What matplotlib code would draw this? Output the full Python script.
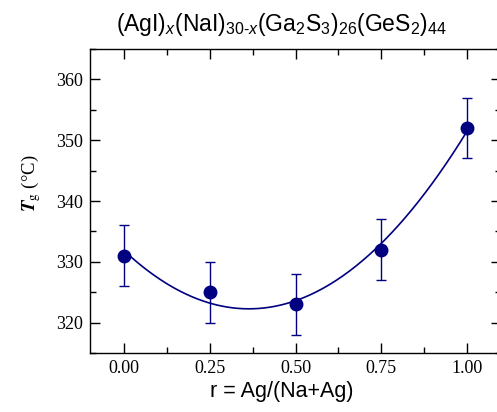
import matplotlib
matplotlib.use('Agg')
import matplotlib.pyplot as plt
import numpy as np
from matplotlib.ticker import MultipleLocator

# Ag fraction r and glass transition temperatures
r = [0.00, 0.25, 0.50, 0.75, 1.00]
tg = [331, 325, 323, 332, 352]
tg_err = [5, 5, 5, 5, 5]

navy = '#000080'

plt.rcParams['mathtext.fontset'] = 'custom'
plt.rcParams['mathtext.rm'] = 'Liberation Sans'
plt.rcParams['mathtext.it'] = 'Liberation Sans:italic'

fig = plt.figure(figsize=(4.97, 4.12), dpi=100)
ax = fig.add_axes([90 / 497, 59 / 412, 411 / 497, 304 / 412])

# quadratic fit through the measured points
coef = np.polyfit(r, tg, 2)
xf = np.linspace(min(r), max(r), 200)
ax.plot(xf, np.polyval(coef, xf), color=navy, lw=1.2, zorder=2)

ax.errorbar(r, tg, yerr=tg_err, fmt='o', color=navy, ms=9, elinewidth=1,
            capsize=3.5, capthick=1, zorder=3)

ax.set_xlim(-0.1, 1.1)
ax.set_ylim(315, 365)
ax.xaxis.set_major_locator(MultipleLocator(0.25))
ax.xaxis.set_minor_locator(MultipleLocator(0.125))
ax.yaxis.set_major_locator(MultipleLocator(10))
ax.yaxis.set_minor_locator(MultipleLocator(5))
ax.xaxis.set_major_formatter(plt.FuncFormatter(lambda v, p: f'{v:.2f}'))
ax.tick_params(which='both', direction='in', top=True, right=True, width=1,
               labelsize=13)
ax.tick_params(which='major', length=7, pad=5)
ax.tick_params(which='minor', length=4)
for lab in ax.get_xticklabels() + ax.get_yticklabels():
    lab.set_fontfamily('Liberation Serif')
for s in ax.spines.values():
    s.set_linewidth(1)

fig.text(281 / 497, 1 - 25 / 412,
         r'(AgI)$_{x}$(NaI)$_{30\text{-}x}$(Ga$_2$S$_3$)$_{26}$(GeS$_2$)$_{44}$',
         ha='center', va='center', fontsize=16.5, family='Liberation Sans')

fig.text(282 / 497, 1 - 392 / 412, 'r = Ag/(Na+Ag)', ha='center', va='center',
         fontsize=15.5, family='Liberation Sans')

fig.text(31 / 497, 1 - 183 / 412, r'$\boldsymbol{T}_{\mathrm{g}}$ (°C)',
         rotation=90, ha='center', va='center', fontsize=13.5,
         family='Liberation Serif', math_fontfamily='stix')

fig.savefig('out.png', dpi=100)
